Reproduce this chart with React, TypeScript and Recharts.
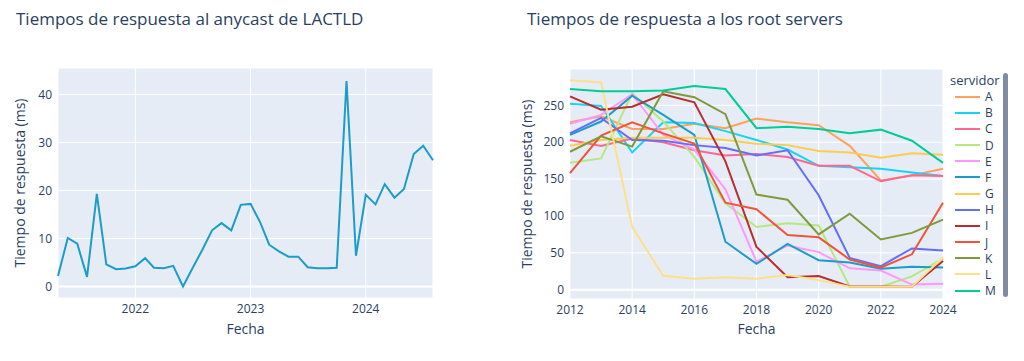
import React from "react";
import {
  LineChart,
  Line,
  XAxis,
  YAxis,
  CartesianGrid,
  ReferenceLine,
} from "recharts";

// anycast LACTLD, monthly
const anycastMonths = [
  "2021-05", "2021-06", "2021-07", "2021-08", "2021-09", "2021-10", "2021-11", "2021-12",
  "2022-01", "2022-02", "2022-03", "2022-04", "2022-05", "2022-06", "2022-07", "2022-08",
  "2022-09", "2022-10", "2022-11", "2022-12", "2023-01", "2023-02", "2023-03", "2023-04",
  "2023-05", "2023-06", "2023-07", "2023-08", "2023-09", "2023-10", "2023-11", "2023-12",
  "2024-01", "2024-02", "2024-03", "2024-04", "2024-05", "2024-06", "2024-07", "2024-08",
];
const anycastMs = [
  2.2, 10.1, 8.9, 2.0, 19.3, 4.6, 3.6, 3.75,
  4.2, 5.9, 3.9, 3.8, 4.3, 0, 3.8, 7.6,
  11.7, 13.2, 11.7, 17.0, 17.2, 13.3, 8.7, 7.3,
  6.2, 6.2, 4.0, 3.8, 3.8, 3.9, 42.8, 6.4,
  19.1, 17.1, 21.3, 18.5, 20.3, 27.6, 29.3, 26.3,
];
const anycastYearTicks = [2022, 2023, 2024];
const anycastMsTicks = [0, 10, 20, 30, 40];

// root servers, yearly
const rootYears = [2012, 2013, 2014, 2015, 2016, 2017, 2018, 2019, 2020, 2021, 2022, 2023, 2024];
const rootA = [227, 235, 218, 218, 225, 219, 232, 227, 223, 195, 148, 155, 164];
const rootB = [252, 249, 186, 227, 226, 215, 203, 190, 168, 166, 164, 159, 154];
const rootC = [203, 195, 205, 200, 189, 182, 184, 180, 168, 168, 147, 155, 154];
const rootD = [172, 178, 266, 228, 180, 117, 85, 90, 87, 4, 4, 18, 42];
const rootE = [225, 237, 265, 210, 190, 136, 38, 60, 51, 29, 26, 7, 8];
const rootF = [210, 228, 263, 237, 210, 65, 35, 62, 40, 37, 28.5, 31, 30];
const rootG = [195, 203, 206, 206, 206, 203, 198, 196, 188, 186, 179, 185, 183];
const rootH = [212, 233, 203, 202, 196, 192, 182, 189, 128, 43, 32, 56, 53];
const rootI = [262, 244, 248, 265, 254, 174, 58, 17, 18.5, 4.5, 4.5, 4, 39];
const rootJ = [158, 209, 227, 212, 198, 118, 109, 74, 71, 41, 30, 48, 118];
const rootK = [187, 208, 194, 269, 261, 238, 129, 122, 75, 103, 68, 77, 95];
const rootL = [284, 281, 85, 19, 15, 17, 15, 20, 13, 4, 4, 4, 44];
const rootM = [272, 269, 269, 270, 276, 272, 219, 221, 218, 212, 217, 202, 172];
const servers = ["A", "B", "C", "D", "E", "F", "G", "H", "I", "J", "K", "L", "M"];
const rootValues = [rootA, rootB, rootC, rootD, rootE, rootF, rootG, rootH, rootI, rootJ, rootK, rootL, rootM];
const rootYearTicks = [2012, 2014, 2016, 2018, 2020, 2022, 2024];
const rootMsTicks = [0, 50, 100, 150, 200, 250];

const serverColors = [
  "#FFA15A", "#19D3F3", "#FF6692", "#B6E880", "#FF97FF", "#1C9CC8", "#FECB52",
  "#636EFA", "#B82E2E", "#EF553B", "#7E9A3A", "#FFE08A", "#00CC96",
];

const FONT = '"Open Sans", verdana, arial, sans-serif';
const INK = "#2a3f5f";
const BG = "#E5ECF6";

const monthTs = (m: string) => {
  const [y, mo] = m.split("-").map(Number);
  return Date.UTC(y, mo - 1, 1);
};

const anycastData = anycastMonths.map((m, i) => ({ t: monthTs(m), ms: anycastMs[i] }));
const rootData = rootYears.map((year, i) => {
  const row: Record<string, number> = { year };
  servers.forEach((s, j) => {
    row[s] = rootValues[j][i];
  });
  return row;
});

const tickStyle = { fontSize: 12, fill: INK, fontFamily: FONT };
const axisTitle = { fontSize: 14, fill: INK, fontFamily: FONT };

const Title = ({ text, left }: { text: string; left: number }) => (
  <div
    style={{
      position: "absolute",
      left,
      top: 9,
      fontSize: 17,
      lineHeight: "20px",
      fontFamily: FONT,
      color: INK,
      whiteSpace: "nowrap",
    }}
  >
    {text}
  </div>
);

const App = () => {
  return (
    <div
      style={{
        position: "absolute",
        left: 0,
        top: 0,
        width: 1024,
        height: 361,
        background: "#fff",
        overflow: "hidden",
      }}
    >
      <Title text="Tiempos de respuesta al anycast de LACTLD" left={16} />
      <Title text="Tiempos de respuesta a los root servers" left={527} />

      <div style={{ position: "absolute", left: 0, top: 0 }}>
        <LineChart
          width={440}
          height={340}
          data={anycastData}
          margin={{ top: 68, right: 7, bottom: 0, left: 0 }}
        >
          <CartesianGrid fill={BG} stroke="#fff" strokeWidth={1} />
          <XAxis
            dataKey="t"
            type="number"
            domain={[monthTs("2021-05"), monthTs("2024-08")]}
            ticks={anycastYearTicks.map((y) => Date.UTC(y, 0, 1))}
            tickFormatter={(v: number) => String(new Date(v).getUTCFullYear())}
            tick={tickStyle}
            axisLine={false}
            tickLine={false}
            tickSize={0}
            tickMargin={6}
            height={42}
            label={{ value: "Fecha", position: "insideBottom", offset: 6, style: axisTitle }}
          />
          <YAxis
            type="number"
            domain={[-2.4, 45.5]}
            ticks={anycastMsTicks}
            tick={tickStyle}
            axisLine={false}
            tickLine={false}
            tickSize={0}
            tickMargin={6}
            width={58}
            label={{
              value: "Tiempo de respuesta (ms)",
              angle: -90,
              position: "insideLeft",
              offset: 20,
              style: { ...axisTitle, textAnchor: "middle" },
            }}
          />
          <ReferenceLine y={0} stroke="#fff" strokeWidth={2} />
          <Line
            type="linear"
            dataKey="ms"
            stroke="#1C9CC8"
            strokeWidth={2}
            dot={false}
            isAnimationActive={false}
          />
        </LineChart>
      </div>

      <div style={{ position: "absolute", left: 512, top: 0 }}>
        <LineChart
          width={461}
          height={341}
          data={rootData}
          margin={{ top: 69, right: 30, bottom: 0, left: 0 }}
        >
          <CartesianGrid fill={BG} stroke="#fff" strokeWidth={1} />
          <XAxis
            dataKey="year"
            type="number"
            domain={[2012, 2024]}
            ticks={rootYearTicks}
            tick={tickStyle}
            axisLine={false}
            tickLine={false}
            tickSize={0}
            tickMargin={6}
            height={42}
            label={{ value: "Fecha", position: "insideBottom", offset: 7, style: axisTitle }}
          />
          <YAxis
            type="number"
            domain={[-12.6, 299.2]}
            ticks={rootMsTicks}
            tick={tickStyle}
            axisLine={false}
            tickLine={false}
            tickSize={0}
            tickMargin={6}
            width={58}
            label={{
              value: "Tiempo de respuesta (ms)",
              angle: -90,
              position: "insideLeft",
              offset: 15,
              style: { ...axisTitle, textAnchor: "middle" },
            }}
          />
          <ReferenceLine y={0} stroke="#fff" strokeWidth={2} />
          {servers.map((s, i) => (
            <Line
              key={s}
              type="linear"
              dataKey={s}
              stroke={serverColors[i]}
              strokeWidth={2}
              dot={false}
              isAnimationActive={false}
            />
          ))}
        </LineChart>
      </div>

      {/* legend */}
      <div
        style={{
          position: "absolute",
          left: 950,
          top: 71,
          fontSize: 13,
          lineHeight: "18px",
          fontFamily: FONT,
          color: INK,
        }}
      >
        servidor
      </div>
      {servers.map((s, i) => (
        <div
          key={s}
          style={{
            position: "absolute",
            left: 954,
            top: 88.5 + i * 16.17,
            height: 16,
            display: "flex",
            alignItems: "center",
            fontSize: 12,
            fontFamily: FONT,
            color: INK,
          }}
        >
          <svg width={27} height={16}>
            <line x1={1} y1={8} x2={26} y2={8} stroke={serverColors[i]} strokeWidth={2} />
          </svg>
          <span style={{ marginLeft: 4 }}>{s}</span>
        </div>
      ))}
      <div
        style={{
          position: "absolute",
          left: 1003,
          top: 73,
          width: 5,
          height: 224,
          borderRadius: 3,
          background: "#808BA4",
        }}
      />
    </div>
  );
};

export default App;
